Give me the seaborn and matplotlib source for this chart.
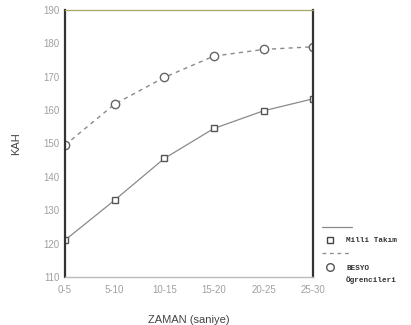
import matplotlib
matplotlib.use("Agg")
import matplotlib.pyplot as plt
import seaborn as sns
import pandas as pd
import numpy as np
from matplotlib.lines import Line2D

categories = ["0-5", "5-10", "10-15", "15-20", "20-25", "25-30"]
milli_takim = [121, 133, 145.5, 154.5, 159.8, 163.4]
besyo = [149.5, 161.8, 169.8, 176.2, 178.2, 179.0]
yticks = [110, 120, 130, 140, 150, 160, 170, 180, 190]

sns.set_theme(style="white")
plt.rcParams['font.family'] = ['Liberation Sans', 'DejaVu Sans']

fig = plt.figure(figsize=(4.11, 3.25), dpi=100)
ax = fig.add_axes([0.158, 0.148, 0.604, 0.821])

pos = np.arange(len(categories))
df1 = pd.DataFrame({"x": pos, "y": milli_takim})
df2 = pd.DataFrame({"x": pos, "y": besyo})

sns.lineplot(data=df1, x="x", y="y", ax=ax, color="#8a8a8a", lw=0.9,
             marker="s", markersize=5, markerfacecolor="white",
             markeredgecolor="#555555", markeredgewidth=1.0)
sns.lineplot(data=df2, x="x", y="y", ax=ax, color="#8a8a8a", lw=1.0,
             linestyle=(0, (3, 3)),
             marker="o", markersize=6, markerfacecolor="white",
             markeredgecolor="#666666", markeredgewidth=1.0)

ax.set_xlim(0, len(categories) - 1)
ax.set_ylim(110, 190)
ax.set_xticks(pos)
ax.set_xticklabels(categories)
ax.set_yticks(yticks)
ax.tick_params(axis="both", labelsize=7, labelcolor="#a0a0a0",
               length=2.5, width=1.5, color="#333333", direction="out", pad=1.5)
ax.tick_params(axis="x", pad=3)

for s in ["left", "right"]:
    ax.spines[s].set_color("#333333")
    ax.spines[s].set_linewidth(1.6)
ax.spines["top"].set_color("#a6a660")
ax.spines["top"].set_linewidth(0.9)
ax.spines["top"].set_linestyle((0, (1, 1)))
ax.spines["bottom"].set_color("#bbbbbb")
ax.spines["bottom"].set_linewidth(1.0)

ax.set_xlabel("ZAMAN (saniye)", fontsize=8, color="#444444", labelpad=15)
ax.set_ylabel("KAH", fontsize=8, color="#444444", labelpad=16)

# Custom legend on the right
lx0, lx1 = 322 / 411, 352 / 411
def fy(py):
    return 1 - py / 325
fig.add_artist(Line2D([lx0, lx1], [fy(227), fy(227)], transform=fig.transFigure,
                      color="#8a8a8a", lw=0.9))
fig.add_artist(Line2D([330 / 411], [fy(240)], transform=fig.transFigure,
                      marker="s", markersize=5, markerfacecolor="white",
                      markeredgecolor="#444444", markeredgewidth=1.0, lw=0))
fig.text(346 / 411, fy(240), "Milli Takım", fontsize=5.5, family="Liberation Mono",
         weight="bold", color="#333333", va="center")
fig.add_artist(Line2D([lx0, lx1], [fy(253), fy(253)], transform=fig.transFigure,
                      color="#8a8a8a", lw=0.9, linestyle=(0, (3, 3))))
fig.add_artist(Line2D([330 / 411], [fy(267)], transform=fig.transFigure,
                      marker="o", markersize=5.5, markerfacecolor="white",
                      markeredgecolor="#555555", markeredgewidth=1.0, lw=0))
fig.text(346 / 411, fy(268), "BESYO", fontsize=5.5, family="Liberation Mono",
         weight="bold", color="#333333", va="center")
fig.text(346 / 411, fy(280), "Ögrencileri", fontsize=5.5, family="Liberation Mono",
         weight="bold", color="#333333", va="center")

fig.savefig("out.png", dpi=100)
